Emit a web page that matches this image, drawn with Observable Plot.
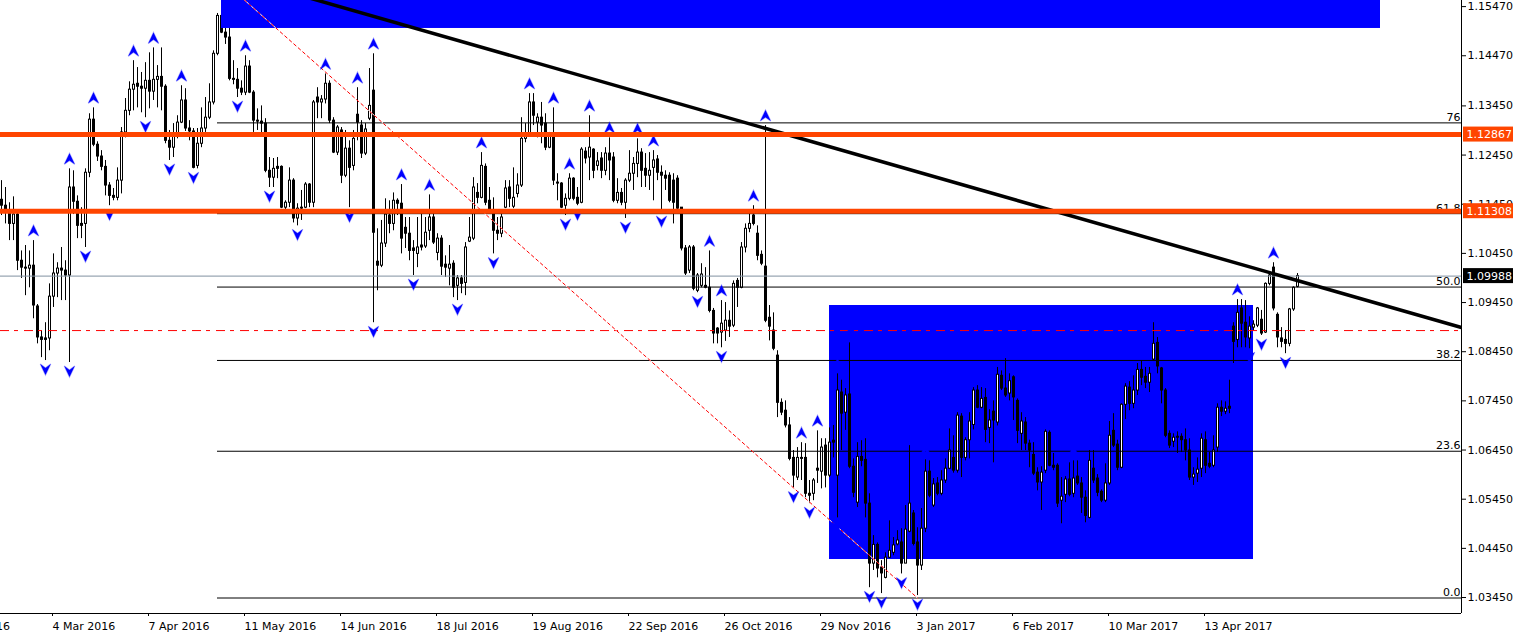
<!DOCTYPE html>
<html><head><meta charset="utf-8">
<script src="https://cdn.jsdelivr.net/npm/d3@7"></script>
<script src="https://cdn.jsdelivr.net/npm/@observablehq/plot@0.6"></script>
<style>
html,body{margin:0;padding:0;background:#fff;overflow:hidden}
#chart svg{display:block}
</style></head><body><div id="chart"></div>
<script>
// EUR/USD daily candles, prices in pips (price x 10000), bar index = trading day from 16 Feb 2016
const opens = [11154,11142,11128,11105,11124,11030,11016,11014,11020,10937,10874,10869,10872,10957,11004,11014,11010,11000,11179,11150,11101,11105,11209,11317,11266,11242,11221,11183,11162,11158,
11193,11291,11335,11378,11390,11384,11380,11396,11374,11398,11404,11384,11274,11260,11282,11311,11356,11299,11293,11223,11268,11299,11321,11352,11451,11528,11494,11484,11400,11398,
11380,11372,11425,11372,11315,11313,11309,11213,11199,11217,11221,11138,11148,11193,11116,11136,11138,11185,11148,11362,11352,11358,11390,11315,11250,11295,11203,11258,11223,11327,
11305,11248,11319,11376,11028,11020,11065,11122,11105,11152,11146,11097,11085,11055,11044,11057,11059,11091,11118,11046,11075,11022,11014,11024,10979,10994,10985,11069,11075,11168,
11158,11221,11152,11126,11091,11085,11138,11179,11140,11166,11183,11278,11288,11352,11311,11321,11309,11260,11286,11189,11187,11142,11156,11197,11158,11148,11252,11240,11256,11223,
11238,11213,11248,11240,11152,11168,11148,11193,11207,11227,11250,11217,11203,11219,11236,11209,11203,11203,11193,11197,11138,11055,11010,11057,10969,10979,10979,10975,10928,10892,
10884,10888,10908,10898,10989,10975,11057,11095,11122,11085,11042,11018,10914,10888,10837,10741,10725,10695,10629,10589,10629,10629,10556,10556,10603,10601,10654,10593,10660,10593,
10762,10721,10758,10611,10538,10631,10625,10536,10414,10452,10406,10385,10426,10436,10453,10457,10414,10479,10516,10457,10410,10485,10601,10532,10577,10556,10583,10607,10629,10603,
10713,10629,10665,10696,10766,10731,10751,10690,10723,10701,10796,10770,10760,10793,10745,10678,10701,10658,10635,10599,10579,10603,10680,10609,10613,10542,10554,10585,10556,10591,
10577,10548,10507,10607,10587,10560,10542,10577,10684,10656,10609,10737,10772,10739,10766,10808,10794,10782,10829,10863,10811,10766,10678,10662,10670,10672,10665,10644,10589,10597,
10607,10665,10617,10613,10650,10731,10723,10729,10896,10869,10933,10904,10872,10894,10898,10910,10884,10983,11016,10920,10872,10869,10861,10931,10977];
const highs = [11193,11179,11148,11160,11128,11050,11061,11050,11071,10941,10888,10904,10983,11044,11026,11057,11030,11217,11213,11162,11138,11217,11329,11341,11272,11254,11234,11189,11177,11219,
11301,11360,11394,11437,11423,11413,11433,11453,11463,11427,11463,11388,11295,11309,11325,11386,11380,11315,11299,11299,11341,11362,11390,11457,11533,11614,11504,11510,11437,11421,
11396,11447,11437,11376,11339,11345,11319,11240,11238,11240,11223,11152,11219,11197,11146,11173,11189,11187,11356,11382,11366,11410,11396,11321,11305,11301,11295,11274,11295,11382,
11315,11309,11421,11451,11095,11112,11156,11152,11168,11156,11185,11118,11118,11071,11118,11126,11118,11164,11132,11085,11081,11040,11061,11030,11000,11000,11067,11118,11199,11187,
11250,11227,11179,11158,11118,11126,11193,11193,11219,11207,11321,11309,11370,11370,11329,11352,11329,11291,11341,11207,11189,11166,11207,11199,11179,11260,11260,11325,11258,11250,
11250,11260,11280,11250,11197,11177,11197,11254,11240,11278,11258,11248,11250,11254,11244,11223,11213,11209,11207,11203,11138,11061,11061,11061,11004,11024,11016,11050,10933,10894,
10949,10945,10928,10989,10994,11067,11105,11126,11142,11101,11050,11305,10939,10924,10847,10749,10745,10711,10644,10650,10660,10658,10583,10587,10684,10668,10668,10690,10695,10800,
10787,10770,10863,10627,10660,10664,10668,10556,10471,10456,10420,10436,10501,10467,10481,10485,10532,10654,10522,10487,10526,10625,10623,10587,10589,10603,10627,10688,10674,10721,
10719,10670,10721,10772,10776,10772,10770,10727,10745,10813,10806,10831,10800,10796,10749,10721,10711,10665,10660,10609,10611,10686,10684,10638,10617,10589,10591,10619,10623,10623,
10589,10562,10644,10644,10595,10564,10617,10703,10719,10665,10739,10780,10784,10796,10821,10827,10813,10813,10904,10874,10813,10770,10684,10678,10682,10678,10688,10668,10609,10629,
10678,10682,10640,10674,10739,10745,10743,10787,10904,10951,10951,10949,10916,10908,10935,10929,10985,11005,11026,10924,10894,10888,10933,10977,11004];
const lows = [11122,11105,11071,11071,11010,10994,10959,10975,10912,10861,10833,10827,10847,10935,10955,10949,10949,10823,11124,11075,11075,11057,11199,11262,11232,11213,11162,11142,11152,11152,
11166,11280,11325,11335,11341,11331,11321,11339,11356,11341,11335,11268,11234,11240,11278,11309,11293,11274,11217,11217,11260,11291,11317,11347,11447,11492,11470,11396,11388,11362,
11366,11366,11370,11291,11295,11284,11209,11179,11179,11197,11136,11132,11138,11107,11101,11112,11136,11138,11138,11319,11319,11349,11309,11248,11244,11187,11199,11138,11213,11274,
11238,11244,11315,10904,10969,11016,11057,11085,11091,11122,11044,11055,11030,11000,11016,11050,11055,11071,11063,11030,11000,10996,10979,10955,10949,10963,10959,11067,11071,11146,
11156,11142,11126,11044,11071,11077,11136,11138,11136,11158,11179,11270,11284,11305,11280,11268,11254,11258,11183,11152,11136,11122,11152,11152,11142,11146,11227,11193,11197,11213,
11197,11203,11193,11148,11146,11142,11116,11189,11173,11199,11179,11179,11173,11152,11193,11128,11173,11148,11105,11132,11050,11000,11004,10969,10965,10975,10973,10924,10861,10861,
10853,10866,10874,10894,10935,10973,11046,11087,11101,11030,11020,10904,10867,10847,10711,10715,10690,10623,10568,10583,10583,10548,10536,10542,10577,10566,10568,10589,10629,10507,
10644,10685,10607,10548,10528,10611,10507,10365,10400,10385,10353,10383,10424,10430,10450,10393,10414,10477,10450,10349,10400,10477,10548,10528,10552,10552,10577,10605,10598,10598,
10589,10623,10627,10686,10729,10729,10660,10658,10619,10694,10766,10752,10745,10705,10658,10644,10644,10609,10593,10562,10522,10597,10611,10603,10528,10495,10538,10550,10548,10573,
10516,10497,10505,10577,10550,10538,10538,10573,10650,10603,10607,10707,10725,10729,10756,10776,10770,10762,10827,10800,10739,10670,10648,10650,10638,10640,10623,10583,10573,10579,
10589,10597,10607,10609,10640,10713,10717,10719,10821,10853,10853,10853,10851,10888,10894,10878,10882,10979,10928,10853,10853,10841,10855,10927,10975];
const closes = [11142,11128,11105,11124,11030,11016,11014,11020,10939,10874,10869,10872,10957,11004,11014,11010,11000,11179,11150,11101,11105,11209,11317,11266,11242,11221,11183,11162,11158,11193,
11291,11335,11378,11388,11384,11380,11396,11374,11398,11404,11384,11274,11260,11282,11311,11356,11299,11293,11219,11268,11299,11321,11352,11451,11528,11494,11484,11400,11398,11380,
11372,11425,11372,11315,11313,11309,11213,11199,11217,11221,11138,11148,11193,11116,11136,11138,11185,11148,11352,11352,11358,11390,11315,11250,11301,11203,11258,11219,11278,11311,
11248,11297,11345,11087,11020,11065,11124,11105,11152,11146,11075,11085,11050,11050,11057,11061,11087,11118,11067,11075,11018,11016,11022,10975,10994,10983,11057,11077,11179,11158,
11223,11148,11132,11091,11085,11118,11177,11156,11158,11183,11278,11288,11352,11325,11321,11305,11260,11286,11193,11187,11138,11156,11197,11156,11146,11256,11238,11260,11213,11232,
11213,11248,11234,11152,11168,11148,11193,11207,11227,11250,11213,11203,11213,11234,11209,11203,11197,11152,11148,11136,11055,11004,11057,10973,11000,11002,10975,10928,10882,10882,
10902,10908,10896,10983,10975,11057,11095,11105,11105,11040,11024,10908,10896,10851,10741,10721,10695,10627,10593,10629,10627,10556,10552,10583,10607,10650,10593,10660,10664,10766,
10719,10756,10611,10558,10631,10623,10536,10414,10452,10404,10394,10426,10440,10451,10461,10414,10483,10536,10454,10410,10485,10601,10552,10575,10556,10583,10607,10644,10603,10715,
10629,10665,10703,10766,10731,10749,10686,10705,10705,10798,10770,10756,10785,10752,10684,10703,10658,10644,10597,10579,10599,10682,10613,10613,10536,10550,10585,10554,10587,10577,
10548,10511,10623,10583,10558,10542,10577,10674,10654,10609,10737,10774,10739,10766,10808,10792,10782,10800,10861,10815,10766,10674,10654,10670,10672,10665,10644,10589,10595,10605,
10668,10613,10611,10644,10731,10723,10729,10733,10865,10924,10902,10874,10896,10900,10933,10882,10983,11000,10933,10874,10865,10861,10931,10975,10999];

// axis labels
const priceTicks = [1.0345,1.0445,1.0545,1.0645,1.0745,1.0845,1.0945,1.1045,1.1145,1.1245,1.1345,1.1447,1.1547];
const dateBars = [-13,13,37,61,85,109,133,157,181,205,229,253,277,301];
const dateLabels = ["1 Feb 2016","4 Mar 2016","7 Apr 2016","11 May 2016","14 Jun 2016","18 Jul 2016","19 Aug 2016","22 Sep 2016","26 Oct 2016","29 Nov 2016","3 Jan 2017","6 Feb 2017","10 Mar 2017","13 Apr 2017"];

// Fibonacci retracement (high bar 54 -> low bar 229)
const fibBars = [54, 229];
const fibPrices = [1.1609, 1.0344];
const fibLevels = [0, 23.6, 38.2, 50, 61.8, 76.4];
const fibNames = ["0.0","23.6","38.2","50.0","61.8","76"];

// horizontal objects
const orangeLevels = [1.12867, 1.11308];
const dashDotLevel = 1.0888;
const bidPrice = 1.09988;

// trend line anchors (bar, price), drawn as a ray to the right
const trendBars = [60, 320];
const trendPrices = [1.1604, 1.0999];

// rectangles (bar from, bar to, price from, price to)
const rectBarsFrom = [55, 207];
const rectBarsTo = [344.75, 313];
const rectPriceFrom = [1.15025, 1.04223];
const rectPriceTo = [1.1616, 1.0939];

const bars = opens.map((o, i) => ({i, o: o / 1e4, h: highs[i] / 1e4, l: lows[i] / 1e4, c: closes[i] / 1e4}));

// Bill Williams fractals
const upFr = [], dnFr = [];
for (let i = 2; i < bars.length - 2; i++) {
  const h = bars[i].h, l = bars[i].l;
  if (h > bars[i-1].h && h > bars[i-2].h && h >= bars[i+1].h && h >= bars[i+2].h) upFr.push(bars[i]);
  if (l < bars[i-1].l && l < bars[i-2].l && l <= bars[i+1].l && l <= bars[i+2].l) dnFr.push(bars[i]);
}

const upSym = {draw(ctx, size) { const r = Math.sqrt(size / Math.PI);
  ctx.moveTo(0, -r); ctx.lineTo(r * 0.95, r); ctx.lineTo(0, r * 0.3); ctx.lineTo(-r * 0.95, r); ctx.closePath(); }};
const dnSym = {draw(ctx, size) { const r = Math.sqrt(size / Math.PI);
  ctx.moveTo(0, r); ctx.lineTo(r * 0.95, -r); ctx.lineTo(0, -r * 0.3); ctx.lineTo(-r * 0.95, -r); ctx.closePath(); }};

const fib = fibLevels.map((f, k) => ({p: fibPrices[1] + (fibPrices[0] - fibPrices[1]) * f / 100, name: fibNames[k]}));
const rects = rectBarsFrom.map((b, k) => ({x1: b, x2: rectBarsTo[k], y1: rectPriceFrom[k], y2: rectPriceTo[k]}));
const slope = (trendPrices[1] - trendPrices[0]) / (trendBars[1] - trendBars[0]);
const xEnd = 365;
const trend = [{i: trendBars[0], p: trendPrices[0]}, {i: trendBars[1], p: trendPrices[1]}, {i: xEnd, p: trendPrices[1] + slope * (xEnd - trendBars[1])}];
const fibDiag = [{i: fibBars[0], p: fibPrices[0]}, {i: fibBars[1], p: fibPrices[1]}];
const axisBoxes = [
  {p: orangeLevels[0], t: orangeLevels[0].toFixed(5), bg: "#ff4500"},
  {p: orangeLevels[1], t: orangeLevels[1].toFixed(5), bg: "#ff4500"},
  {p: bidPrice, t: bidPrice.toFixed(5), bg: "#000000"}
];

const chart = Plot.plot({
  width: 1513, height: 637,
  marginLeft: 0, marginRight: 52, marginTop: 0, marginBottom: 24,
  x: {type: "linear", domain: [-0.25, xEnd], axis: null},
  y: {domain: [1.03125, 1.15594], axis: null},
  style: {fontFamily: "DejaVu Sans", fontSize: "11px", background: "#fff", color: "#000", overflow: "visible"},
  marks: [
    // background rectangle
    Plot.rect([rects[1]], {x1: "x1", x2: "x2", y1: "y1", y2: "y2", fill: "#0000ff"}),
    // candles
    Plot.ruleX(bars, {x: "i", y1: "l", y2: "h", stroke: "#000", strokeWidth: 1, clip: true}),
    Plot.rect(bars, {x1: d => d.i - 0.25, x2: d => d.i + 0.5, y1: "o", y2: "c", fill: "#000", insetTop: -0.5, insetBottom: -0.5, clip: true}),
    Plot.rect(bars.filter(d => d.c - d.o > 0.00045), {x1: d => d.i, x2: d => d.i + 0.25, y1: "o", y2: "c", fill: "#fff", insetTop: 0.5, insetBottom: 0.5, clip: true}),
    // horizontal lines
    Plot.ruleY([dashDotLevel], {x1: -0.25, x2: xEnd, stroke: "#ff0000", strokeWidth: 1, strokeDasharray: "9,5,4,6"}),
    Plot.ruleY([bidPrice], {x1: -0.25, x2: xEnd, stroke: "#8090a0", strokeWidth: 1}),
    Plot.ruleY(fib, {y: "p", x1: fibBars[0], x2: xEnd, stroke: "#000", strokeWidth: 1}),
    Plot.text(fib, {x: xEnd, y: "p", text: "name", textAnchor: "end", lineAnchor: "bottom", dx: -1, dy: -2, fill: "#000"}),
    // foreground rectangle
    Plot.rect([rects[0]], {x1: "x1", x2: "x2", y1: "y1", y2: "y2", fill: "#0000ff", clip: true}),
    // fib diagonal (dotted)
    Plot.line(fibDiag, {x: "i", y: "p", stroke: "#fff", strokeWidth: 1, clip: true}),
    Plot.line(fibDiag, {x: "i", y: "p", stroke: "#ff0000", strokeWidth: 1, strokeDasharray: "3,3", clip: true}),
    // trend line
    Plot.line(trend, {x: "i", y: "p", stroke: "#000", strokeWidth: 3.5, clip: true}),
    // fractals
    Plot.dot(upFr, {x: "i", y: "h", symbol: upSym, r: 5.5, dy: -10, fill: "#0000ff", stroke: "#0000ff", strokeOpacity: 0.35, strokeWidth: 1.2, clip: true}),
    Plot.dot(dnFr, {x: "i", y: "l", symbol: dnSym, r: 5.5, dy: 9, fill: "#0000ff", stroke: "#0000ff", strokeOpacity: 0.35, strokeWidth: 1.2, clip: true}),
    // orange support/resistance
    Plot.ruleY(orangeLevels, {x1: -0.25, x2: xEnd, stroke: "#ff4500", strokeWidth: 5}),
    // axes
    Plot.axisY({anchor: "right", ticks: priceTicks, tickFormat: d => d.toFixed(5), tickSize: 4, tickPadding: 2, label: null}),
    Plot.axisX({ticks: dateBars, tickFormat: d => dateLabels[dateBars.indexOf(d)], tickSize: 3, tickPadding: 6, textAnchor: "start", dx: -1, label: null}),
    Plot.ruleX([xEnd], {stroke: "#000"}),
    Plot.ruleY([1.03125], {stroke: "#000"}),
    // axis price boxes
    Plot.rect(axisBoxes, {x1: xEnd + 0.5, x2: 378.5, y1: "p", y2: "p", insetTop: -7.5, insetBottom: -7.5, fill: "bg"}),
    Plot.text(axisBoxes, {x: xEnd + 0.5, y: "p", text: "t", fill: "#fff", textAnchor: "start", dx: 3})
  ]
});
document.getElementById("chart").appendChild(chart);
</script>
</body></html>
